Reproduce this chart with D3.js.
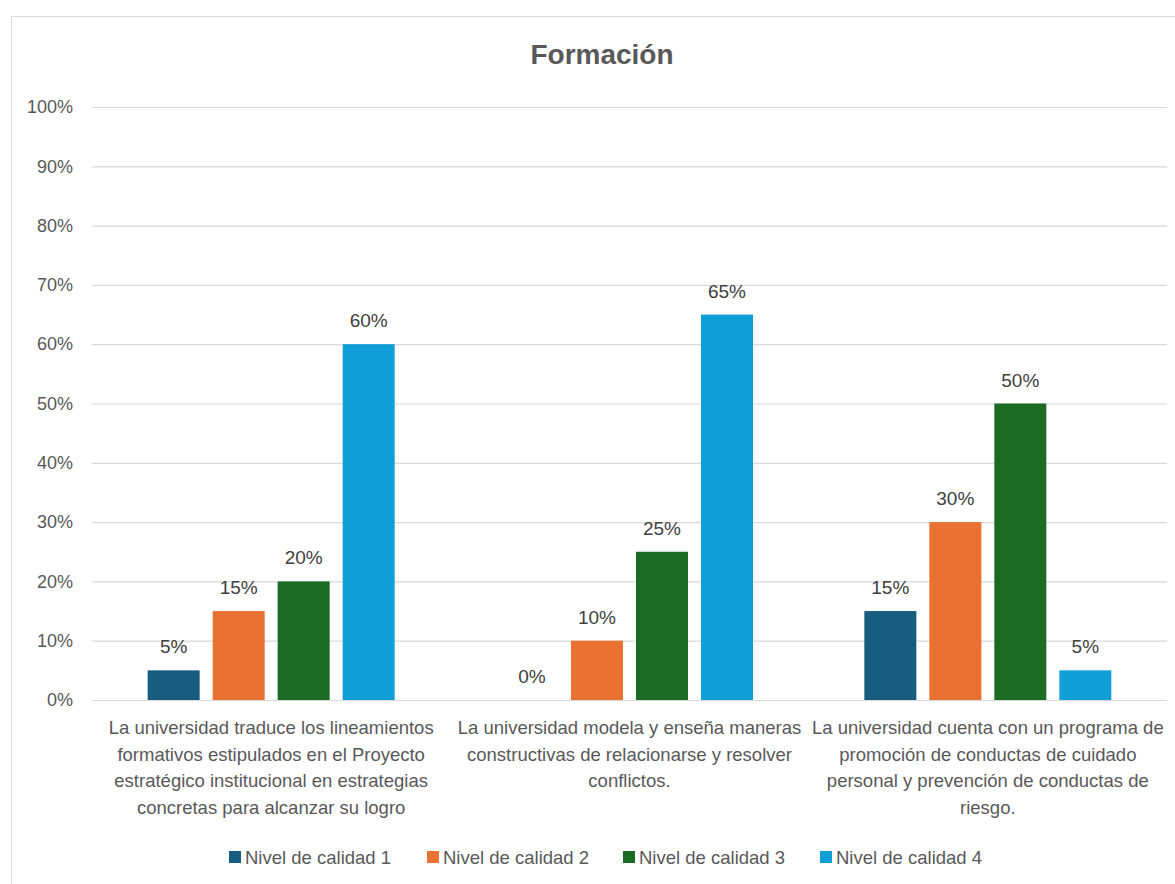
<!DOCTYPE html>
<html>
<head>
<meta charset="utf-8">
<script src="https://cdn.jsdelivr.net/npm/d3@7"></script>
<style>
  body { margin: 0; background: #fff; }
  text { font-family: "Liberation Sans", Arial, sans-serif; }
</style>
</head>
<body>
<svg id="chart" width="1175" height="884"></svg>
<script>
  const title = 'Formación';
  const categories = [
    ['La universidad traduce los lineamientos', 'formativos estipulados en el Proyecto', 'estratégico institucional en estrategias', 'concretas para alcanzar su logro'],
    ['La universidad modela y enseña maneras', 'constructivas de relacionarse y resolver', 'conflictos.'],
    ['La universidad cuenta con un programa de', 'promoción de conductas de cuidado', 'personal y prevención de conductas de', 'riesgo.']
  ];
  const series = ['Nivel de calidad 1', 'Nivel de calidad 2', 'Nivel de calidad 3', 'Nivel de calidad 4'];
  const colors = ['#175d80', '#e97132', '#1b6b25', '#109fd6'];
  // one row per category, one value per series
  const values = [
    [0.05, 0.15, 0.20, 0.60],
    [0.00, 0.10, 0.25, 0.65],
    [0.15, 0.30, 0.50, 0.05]
  ];
  const yTicks = [0, 0.1, 0.2, 0.3, 0.4, 0.5, 0.6, 0.7, 0.8, 0.9, 1.0];

  const svg = d3.select('#chart');
  const margin = {top: 107, right: 8, bottom: 184, left: 92};
  const width = 1175, height = 884;

  // chart frame
  svg.append('rect')
    .attr('x', 11.5).attr('y', 16.5)
    .attr('width', 1175).attr('height', 880)
    .attr('fill', '#fff').attr('stroke', '#d9d9d9');

  svg.append('text')
    .attr('x', 602).attr('y', 64)
    .attr('text-anchor', 'middle')
    .attr('font-size', 28).attr('font-weight', 'bold')
    .attr('fill', '#595959')
    .text(title);

  const catIdx = categories.map((d, i) => i);
  const x0 = d3.scaleBand().domain(catIdx).range([margin.left, width - margin.right]);
  const clusterW = 247;
  const x1 = d3.scaleBand().domain(series)
    .range([(x0.bandwidth() - clusterW) / 2, (x0.bandwidth() + clusterW) / 2])
    .paddingInner(0.2);
  const y = d3.scaleLinear().domain([0, 1]).range([height - margin.bottom, margin.top]);

  const yAxis = d3.axisLeft(y).tickValues(yTicks)
    .tickFormat(d3.format('.0%'))
    .tickSize(-(width - margin.left - margin.right))
    .tickPadding(19);
  const ga = svg.append('g').attr('transform', `translate(${margin.left},0)`).call(yAxis);
  ga.select('.domain').remove();
  ga.selectAll('line').attr('stroke', '#d9d9d9').attr('stroke-width', 1.2);
  ga.selectAll('text').attr('font-size', 18).attr('fill', '#595959');

  const groups = svg.append('g').selectAll('g')
    .data(values)
    .join('g')
    .attr('transform', (d, i) => `translate(${x0(i)},0)`);

  groups.selectAll('rect')
    .data(d => d.map((v, j) => ({v, s: series[j], c: colors[j]})))
    .join('rect')
    .attr('x', d => x1(d.s))
    .attr('y', d => y(d.v))
    .attr('width', x1.bandwidth())
    .attr('height', d => y(0) - y(d.v))
    .attr('fill', d => d.c);

  groups.selectAll('text.val')
    .data(d => d.map((v, j) => ({v, s: series[j]})))
    .join('text')
    .attr('class', 'val')
    .attr('x', d => x1(d.s) + x1.bandwidth() / 2)
    .attr('y', d => y(d.v) - 17)
    .attr('text-anchor', 'middle')
    .attr('font-size', 19)
    .attr('fill', '#404040')
    .text(d => d3.format('.0%')(d.v));

  // category labels
  svg.append('g').selectAll('text')
    .data(categories)
    .join('text')
    .attr('x', (d, i) => x0(i) + x0.bandwidth() / 2)
    .attr('y', 734)
    .attr('text-anchor', 'middle')
    .attr('font-size', 18.5)
    .attr('fill', '#595959')
    .selectAll('tspan')
    .data(d => d)
    .join('tspan')
    .attr('x', function() { return this.parentNode.getAttribute('x'); })
    .attr('dy', (d, i) => i === 0 ? 0 : 26.5)
    .text(d => d);

  // legend
  const legendX = [229, 427, 623, 820];
  const lg = svg.append('g').selectAll('g')
    .data(series)
    .join('g')
    .attr('transform', (d, i) => `translate(${legendX[i]},851)`);
  lg.append('rect').attr('width', 12).attr('height', 12).attr('fill', (d, i) => colors[i]);
  lg.append('text')
    .attr('x', 16).attr('y', 13)
    .attr('font-size', 18.5).attr('fill', '#595959')
    .text(d => d);
</script>
</body>
</html>
